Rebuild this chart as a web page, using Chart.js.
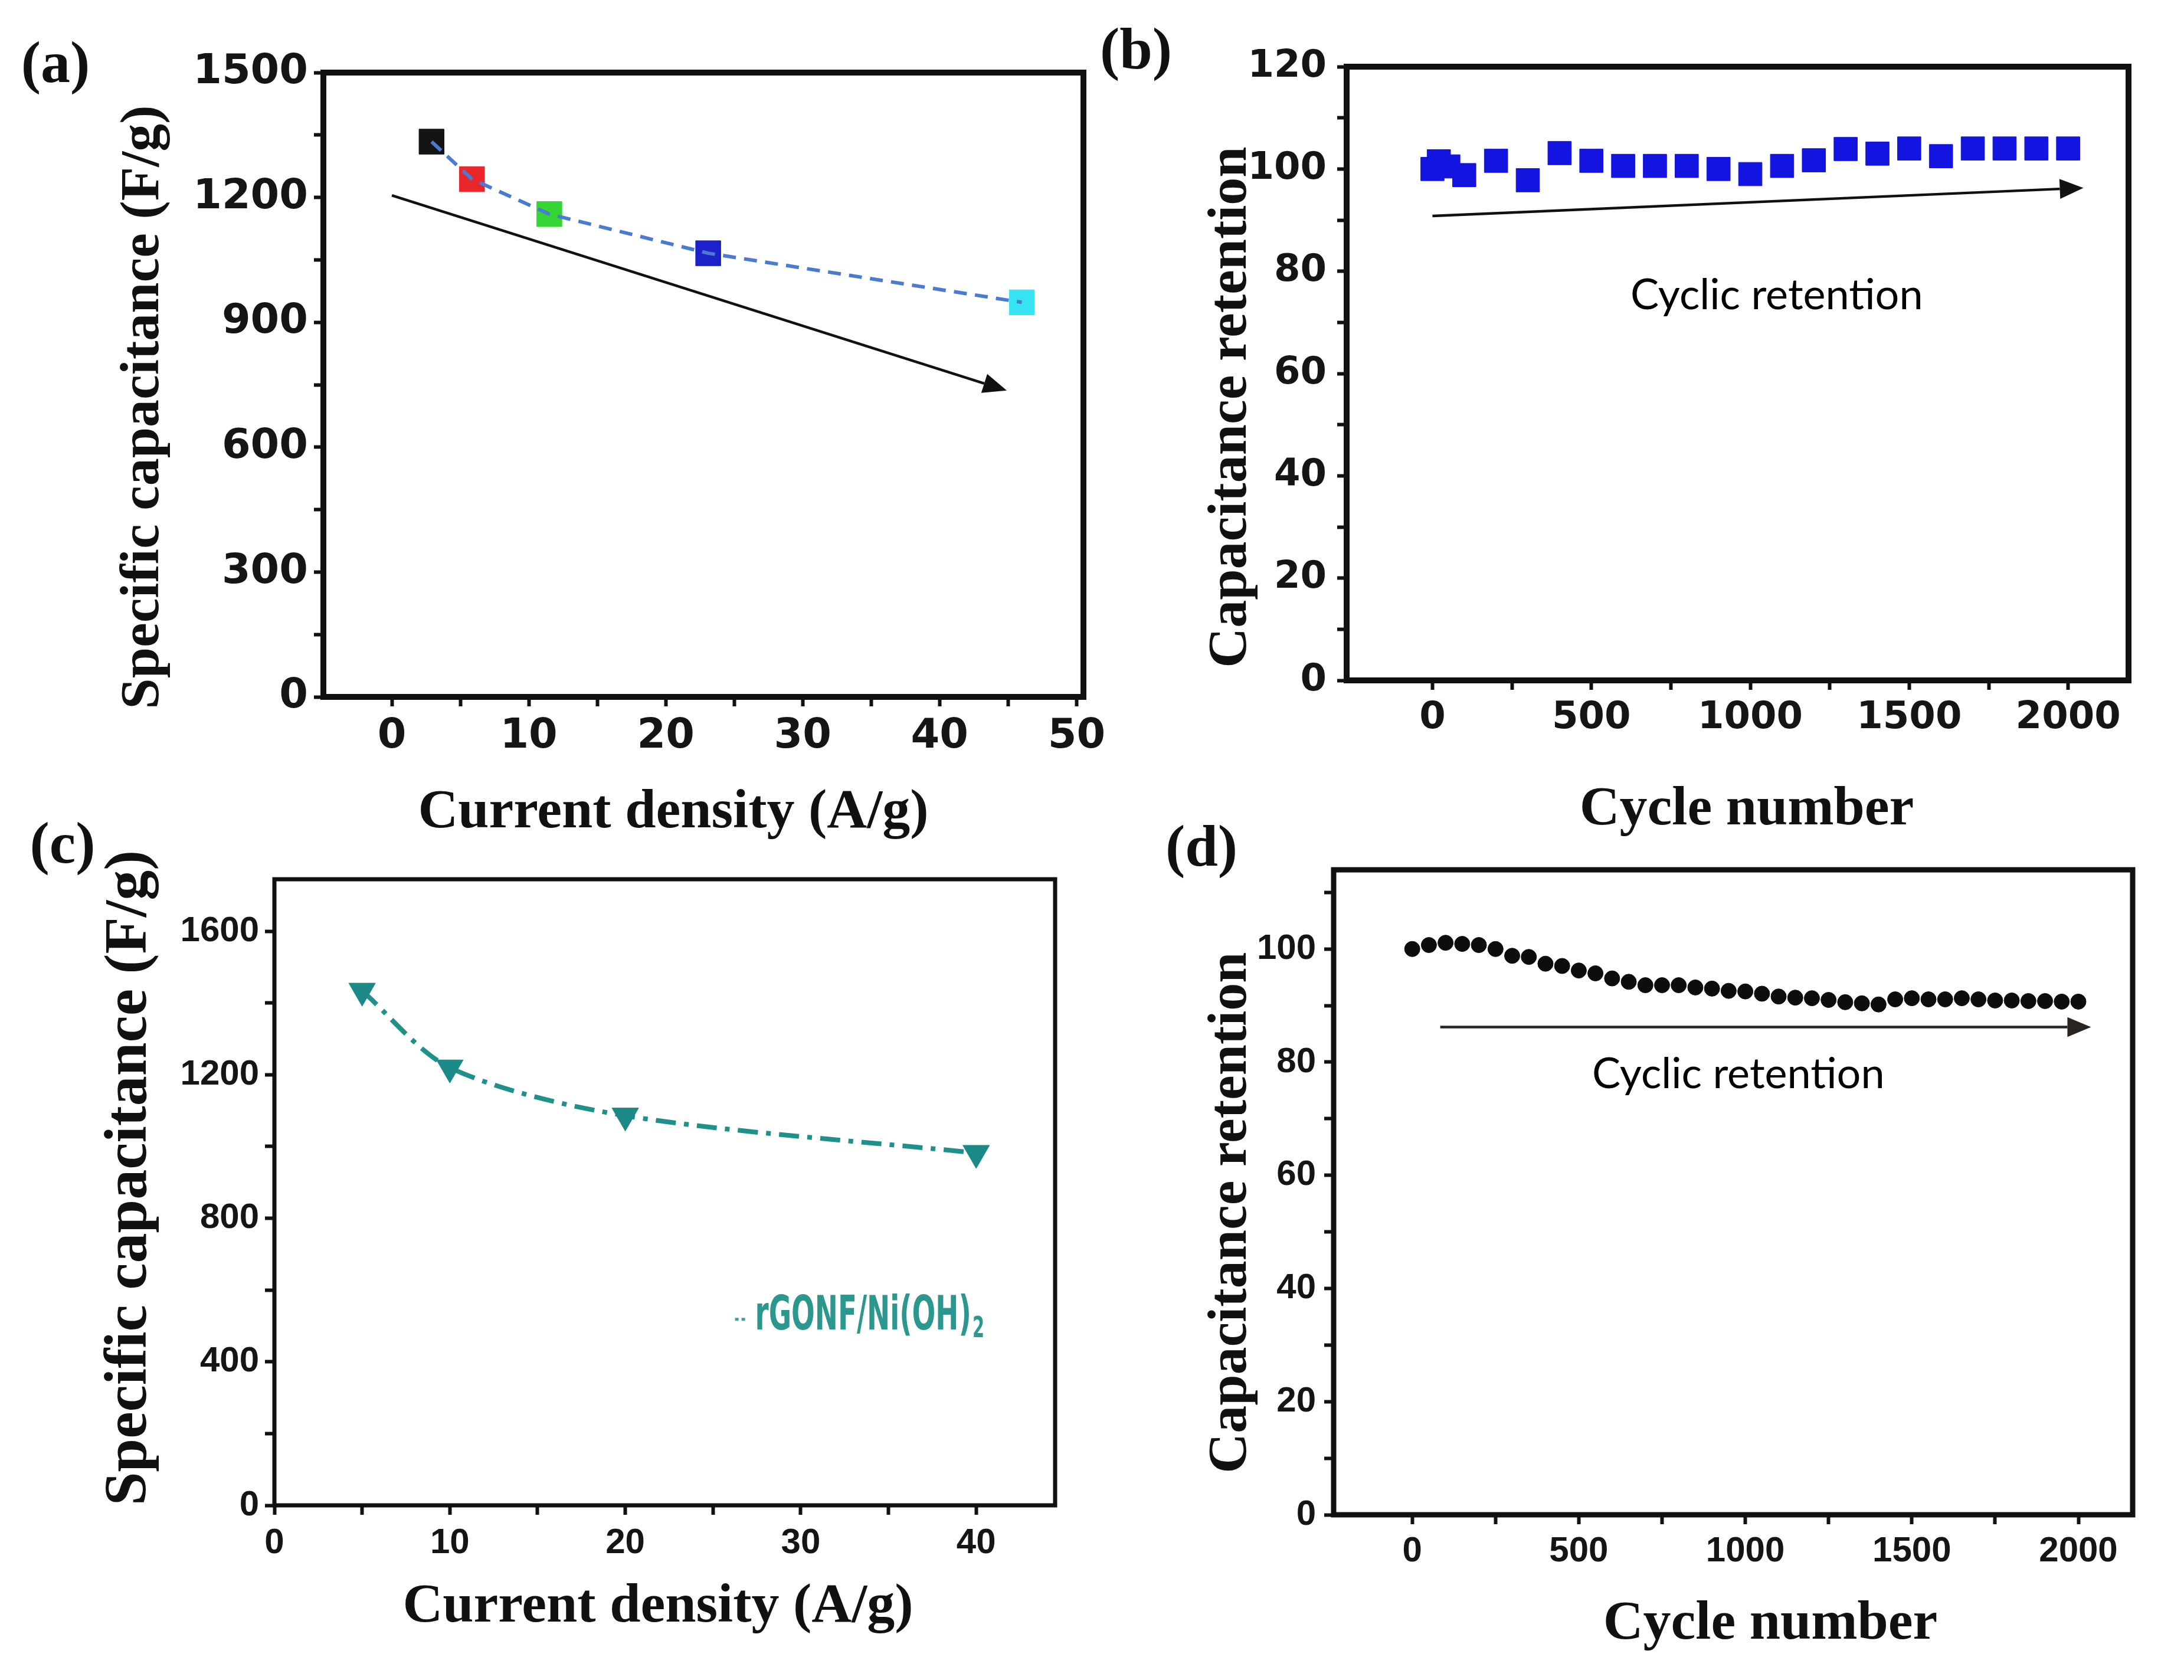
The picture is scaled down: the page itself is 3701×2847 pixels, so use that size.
<!DOCTYPE html>
<html>
<head>
<meta charset="utf-8">
<script src="https://cdn.jsdelivr.net/npm/chart.js@4.4.0/dist/chart.umd.min.js"></script>
<style>
    html, body { margin: 0; padding: 0; background: #fff; }
    body { width: 3701px; height: 2847px; position: relative; overflow: hidden; }
    canvas { position: absolute; }
    .lbl {
        position: absolute;
        font-family: 'Liberation Serif', 'Times New Roman', serif;
        font-weight: bold;
        color: #111;
        white-space: nowrap;
        line-height: 1;
        transform: translate(-50%, -50%);
    }
    .lbl.rot { transform: translate(-50%, -50%) rotate(-90deg); }
</style>
</head>
<body>
<script>
// ---- data ----

// (a) specific capacitance vs current density
const aCurrent = [2.9, 5.85, 11.5, 23.1, 46.0];
const aCapacitance = [1334, 1244, 1160, 1066, 948];
const aColors = ['#141414', '#e8262c', '#33d633', '#1c22c8', '#35e4f0'];
const aArrow = { from: [0, 1205], to: [44.9, 736] };
const aTicksX = [0, 10, 20, 30, 40, 50];
const aTicksY = [0, 300, 600, 900, 1200, 1500];

// (b) capacitance retention vs cycle number
const bCycles = [0, 20, 50, 100, 200, 300, 400, 500, 600, 700, 800, 900, 1000,
    1100, 1200, 1300, 1400, 1500, 1600, 1700, 1800, 1900, 2000];
const bRetention = [100, 101.5, 100.5, 98.8, 101.6, 97.8, 103.1, 101.6, 100.6, 100.6, 100.6, 100, 99,
    100.6, 101.7, 103.9, 103, 104, 102.5, 104, 104, 104, 104];
const bArrow = { from: [0, 90.8], to: [2048, 96.3] };
const bNote = { at: [1083, 75.2], text: 'Cyclic retention' };
const bTicksX = [0, 500, 1000, 1500, 2000];
const bTicksY = [0, 20, 40, 60, 80, 100, 120];

// (c) rGONF/Ni(OH)2 specific capacitance
const cCurrent = [5, 10, 20, 40];
const cCapacitance = [1434, 1220, 1086, 982];
const cLegend = { at: [27.4, 525], text: 'rGONF/Ni(OH)', sub: '2' };
const cTicksX = [0, 10, 20, 30, 40];
const cTicksY = [0, 400, 800, 1200, 1600];

// (d) capacitance retention vs cycle number
const dCycles = [0, 50, 100, 150, 200, 250, 300, 350, 400, 450, 500, 550, 600, 650, 700, 750, 800,
    850, 900, 950, 1000, 1050, 1100, 1150, 1200, 1250, 1300, 1350, 1400, 1450, 1500, 1550, 1600,
    1650, 1700, 1750, 1800, 1850, 1900, 1950, 2000];
const dRetention = [100, 100.7, 101.1, 100.9, 100.7, 100, 98.8, 98.6, 97.4, 97.0, 96.2, 95.7, 94.8,
    94.2, 93.6, 93.6, 93.6, 93.2, 93.0, 92.6, 92.5, 92.1, 91.6, 91.4, 91.3, 91.0, 90.6, 90.4, 90.2,
    91.1, 91.3, 91.1, 91.1, 91.3, 91.1, 90.9, 90.9, 90.8, 90.8, 90.7, 90.7];
const dArrow = { from: [84, 86.2], to: [2038, 86.2] };
const dNote = { at: [979, 77.8], text: 'Cyclic retention' };
const dTicksX = [0, 500, 1000, 1500, 2000];
const dTicksY = [0, 20, 40, 60, 80, 100];

// ---- layout (page pixels) ----
const boxes = {
    a: { left: 548, top: 123, right: 1836, bottom: 1181 },
    b: { left: 2282, top: 113, right: 3607, bottom: 1153 },
    c: { left: 465, top: 1490, right: 1788, bottom: 2551 },
    d: { left: 2260, top: 1474, right: 3614, bottom: 2567 }
};

const titles = [
    { text: '(a)', x: 94, y: 106, size: 100 },
    { text: '(b)', x: 1925, y: 83, size: 100 },
    { text: '(c)', x: 106, y: 1429, size: 100 },
    { text: '(d)', x: 2036, y: 1434, size: 100 },
    { text: 'Specific capacitance (F/g)', x: 236, y: 690, size: 94, rot: true },
    { text: 'Current density (A/g)', x: 1141, y: 1370, size: 94 },
    { text: 'Capacitance retention', x: 2079, y: 690, size: 94, rot: true },
    { text: 'Cycle number', x: 2960, y: 1365, size: 94 },
    { text: 'Specific capacitance (F/g)', x: 213, y: 1996, size: 102, rot: true },
    { text: 'Current density (A/g)', x: 1115, y: 2716, size: 94 },
    { text: 'Capacitance retention', x: 2079, y: 2055, size: 94, rot: true },
    { text: 'Cycle number', x: 3000, y: 2745, size: 94 }
];

titles.forEach(t => {
    const el = document.createElement('div');
    el.className = t.rot ? 'lbl rot' : 'lbl';
    el.style.left = t.x + 'px';
    el.style.top = t.y + 'px';
    el.style.fontSize = t.size + 'px';
    el.textContent = t.text;
    document.body.appendChild(el);
});

function steps(min, max, step) {
    const out = [];
    for (let v = min; v <= max + 1e-9; v += step) out.push(Math.round(v * 1000) / 1000);
    return out;
}

function drawArrow(ctx, x0, y0, x1, y1, color, lw, head) {
    const ang = Math.atan2(y1 - y0, x1 - x0);
    const bx = x1 - head * Math.cos(ang);
    const by = y1 - head * Math.sin(ang);
    const hw = head * 0.42;
    ctx.strokeStyle = color;
    ctx.fillStyle = color;
    ctx.lineWidth = lw;
    ctx.beginPath();
    ctx.moveTo(x0, y0);
    ctx.lineTo(bx, by);
    ctx.stroke();
    ctx.beginPath();
    ctx.moveTo(x1, y1);
    ctx.lineTo(bx + hw * Math.sin(ang), by - hw * Math.cos(ang));
    ctx.lineTo(bx - hw * Math.sin(ang), by + hw * Math.cos(ang));
    ctx.closePath();
    ctx.fill();
}

// arrows, notes, legend and the box frame
const panelDecor = {
    id: 'panelDecor',
    afterDatasetsDraw(chart, args, opts) {
        const { ctx, scales: { x, y } } = chart;
        ctx.save();
        (opts.arrows || []).forEach(ar => {
            drawArrow(ctx,
                x.getPixelForValue(ar.from[0]), y.getPixelForValue(ar.from[1]),
                x.getPixelForValue(ar.to[0]), y.getPixelForValue(ar.to[1]),
                opts.arrowColor || '#111', 4.5, 40);
        });
        (opts.notes || []).forEach(n => {
            ctx.font = '72px Lato, "Open Sans", sans-serif';
            ctx.fillStyle = '#000';
            ctx.textAlign = 'center';
            ctx.textBaseline = 'middle';
            ctx.fillText(n.text, x.getPixelForValue(n.at[0]), y.getPixelForValue(n.at[1]));
        });
        if (opts.legend) {
            const lg = opts.legend;
            const px = x.getPixelForValue(lg.at[0]);
            const py = y.getPixelForValue(lg.at[1]);
            ctx.strokeStyle = '#3aa39b';
            ctx.lineWidth = 5;
            ctx.setLineDash([6, 5]);
            ctx.beginPath();
            ctx.moveTo(px - 34, py + 4);
            ctx.lineTo(px - 12, py + 4);
            ctx.stroke();
            ctx.setLineDash([]);
            ctx.translate(px, py);
            ctx.scale(1, 1.55);
            ctx.fillStyle = '#2c978e';
            ctx.textAlign = 'left';
            ctx.textBaseline = 'middle';
            ctx.font = 'bold 52px "DejaVu Sans Condensed", "Liberation Sans Narrow", sans-serif';
            ctx.fillText(lg.text, 0, 0);
            const w = ctx.measureText(lg.text).width;
            ctx.font = 'bold 32px "DejaVu Sans Condensed", "Liberation Sans Narrow", sans-serif';
            ctx.fillText(lg.sub, w + 2, 14);
        }
        ctx.restore();
    },
    afterDraw(chart, args, opts) {
        const { ctx, chartArea: a } = chart;
        ctx.save();
        ctx.strokeStyle = '#111';
        ctx.lineWidth = opts.frameWidth || 9;
        ctx.strokeRect(a.left, a.top, a.right - a.left, a.bottom - a.top);
        ctx.restore();
    }
};

function axis(cfg, isY) {
    return {
        type: 'linear',
        position: isY ? 'left' : 'bottom',
        min: cfg.min,
        max: cfg.max,
        afterBuildTicks: s => { s.ticks = cfg.ticks.map(v => ({ value: v })); },
        afterFit: s => {
            if (isY) s.width = 260;
            else s.height = 170;
        },
        grid: { drawOnChartArea: false, drawTicks: true, tickLength: 16, tickWidth: 6, tickColor: '#111' },
        border: { display: false },
        ticks: {
            autoSkip: false,
            maxRotation: 0,
            padding: cfg.pad,
            color: '#151515',
            font: cfg.font,
            callback: v => cfg.labels.includes(v) ? String(v) : ''
        }
    };
}

function buildPanel(key, datasets, xCfg, yCfg, decor) {
    const box = boxes[key];
    const yW = 260, xH = 170, padT = 70, padR = 100;
    const w = box.right - box.left + yW + padR;
    const h = box.bottom - box.top + padT + xH;
    const canvas = document.createElement('canvas');
    canvas.width = w;
    canvas.height = h;
    canvas.style.left = (box.left - yW) + 'px';
    canvas.style.top = (box.top - padT) + 'px';
    canvas.style.width = w + 'px';
    canvas.style.height = h + 'px';
    document.body.appendChild(canvas);

    return new Chart(canvas, {
        type: 'scatter',
        data: { datasets },
        options: {
            responsive: false,
            animation: false,
            devicePixelRatio: 1,
            layout: { padding: { top: padT, right: padR, left: 0, bottom: 0 } },
            scales: { x: axis(xCfg, false), y: axis(yCfg, true) },
            plugins: {
                legend: { display: false },
                tooltip: { enabled: false },
                panelDecor: decor
            }
        },
        plugins: [panelDecor]
    });
}

const boldWide = size => ({ family: '"DejaVu Sans", sans-serif', weight: 'bold', size });
const boldArial = size => ({ family: '"Liberation Sans", Arial, sans-serif', weight: 'bold', size });

// (a)
const aPoints = aCurrent.map((v, i) => ({ x: v, y: aCapacitance[i] }));
buildPanel('a', [
    {
        data: aPoints, showLine: true, pointRadius: 0,
        borderColor: '#4a7bd0', borderWidth: 6, borderDash: [22, 14]
    },
    {
        data: aPoints, pointStyle: 'rect', pointRadius: 30,
        backgroundColor: aColors, borderColor: aColors, borderWidth: 1
    }
], { min: -5, max: 50.5, ticks: steps(0, 50, 5), labels: aTicksX, pad: 10, font: boldWide(70) },
   { min: 0, max: 1500, ticks: steps(0, 1500, 150), labels: aTicksY, pad: 10, font: boldWide(70) },
   { arrows: [aArrow], frameWidth: 10 });

// (b)
buildPanel('b', [
    {
        data: bCycles.map((v, i) => ({ x: v, y: bRetention[i] })),
        pointStyle: 'rect', pointRadius: 28,
        backgroundColor: '#1414e0', borderColor: '#1414e0', borderWidth: 1
    }
], { min: -270, max: 2190, ticks: steps(0, 2000, 250), labels: bTicksX, pad: 10, font: boldWide(64) },
   { min: 0, max: 120, ticks: steps(0, 120, 10), labels: bTicksY, pad: 18, font: boldWide(64) },
   { arrows: [bArrow], notes: [bNote], frameWidth: 10 });

// (c)
buildPanel('c', [
    {
        data: cCurrent.map((v, i) => ({ x: v, y: cCapacitance[i] })),
        showLine: true, tension: 0.3,
        borderColor: '#20908b', borderWidth: 8, borderDash: [34, 14, 8, 14],
        pointStyle: 'triangle', rotation: 180, pointRadius: 26,
        pointBackgroundColor: '#1b8985', pointBorderColor: '#1b8985', pointBorderWidth: 1
    }
], { min: 0, max: 44.5, ticks: steps(0, 40, 5), labels: cTicksX, pad: 12, font: boldArial(60) },
   { min: 0, max: 1745, ticks: steps(0, 1600, 200), labels: cTicksY, pad: 10, font: boldArial(60) },
   { legend: cLegend, frameWidth: 7 });

// (d)
buildPanel('d', [
    {
        data: dCycles.map((v, i) => ({ x: v, y: dRetention[i] })),
        pointStyle: 'circle', pointRadius: 13,
        backgroundColor: '#0d0d0d', borderColor: '#0d0d0d', borderWidth: 1
    }
], { min: -236, max: 2163, ticks: steps(0, 2000, 250), labels: dTicksX, pad: 10, font: boldArial(60) },
   { min: 0, max: 114, ticks: steps(0, 110, 10), labels: dTicksY, pad: 14, font: boldArial(60) },
   { arrows: [dArrow], notes: [dNote], arrowColor: '#2a2420', frameWidth: 9 });
</script>
</body>
</html>
